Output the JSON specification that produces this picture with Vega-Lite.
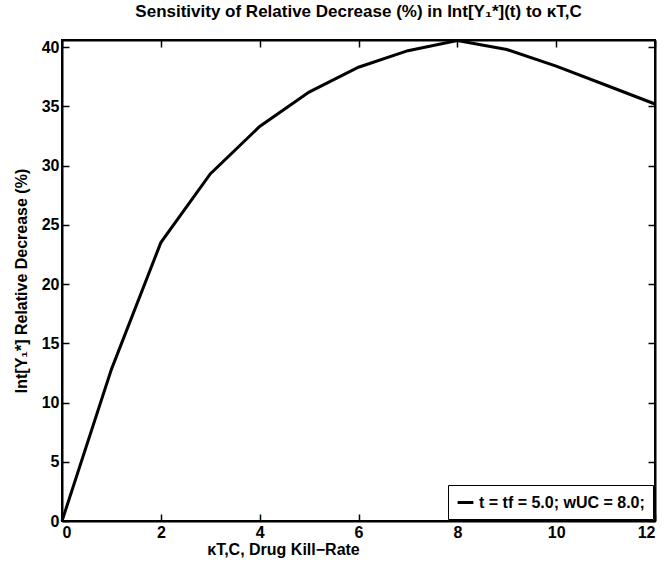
{
  "$schema": "https://vega.github.io/schema/vega-lite/v6.json",
  "width": 593,
  "height": 481,
  "autosize": {"type": "none"},
  "padding": {"left": 62, "top": 40, "right": 10, "bottom": 44},
  "background": "white",
  "config": {
    "font": "Liberation Sans",
    "view": {"stroke": "black", "strokeWidth": 2},
    "axis": {
      "domainColor": "black", "domainWidth": 2, "tickColor": "black", "tickWidth": 1.5,
      "tickSize": -7, "grid": false, "labelColor": "black", "labelFont": "Liberation Sans",
      "labelFontSize": 16, "labelFontWeight": "bold", "titleColor": "black",
      "titleFont": "Liberation Sans", "titleFontWeight": "bold", "titleFontSize": 16
    }
  },
  "title": {
    "text": "Sensitivity of Relative Decrease (%) in Int[Y₁*](t) to κT,C",
    "fontSize": 17, "fontWeight": "bold", "font": "Liberation Sans", "color": "black",
    "anchor": "middle", "offset": 14
  },
  "data": {
    "values": [
      {"k": 0, "v": 0},
      {"k": 1, "v": 12.8},
      {"k": 2, "v": 23.5},
      {"k": 3, "v": 29.3},
      {"k": 4, "v": 33.3},
      {"k": 5, "v": 36.2},
      {"k": 6, "v": 38.3},
      {"k": 7, "v": 39.7},
      {"k": 8, "v": 40.55},
      {"k": 9, "v": 39.8},
      {"k": 10, "v": 38.4},
      {"k": 11, "v": 36.8},
      {"k": 12, "v": 35.2}
    ]
  },
  "layer": [
    {
      "mark": {"type": "line", "strokeWidth": 3},
      "encoding": {
        "x": {"field": "k", "type": "quantitative", "scale": {"domain": [0, 12], "nice": false},
          "axis": {"orient": "bottom", "values": [0, 2, 4, 6, 8, 10, 12], "labelPadding": 10,
            "title": "κT,C, Drug Kill−Rate", "titleX": 221, "titlePadding": 1}},
        "y": {"field": "v", "type": "quantitative", "scale": {"domain": [0, 40.6], "nice": false},
          "axis": {"orient": "left", "values": [0, 5, 10, 15, 20, 25, 30, 35, 40], "labelPadding": 10,
            "title": "Int[Y₁*] Relative Decrease (%)", "titlePadding": 12}},
        "color": {"datum": "t = tf = 5.0; wUC = 8.0;", "type": "nominal",
          "scale": {"range": ["black"]},
          "legend": {"title": null, "orient": "bottom-right", "offset": 2, "symbolType": "stroke",
            "symbolStrokeWidth": 3, "symbolSize": 250, "labelFontSize": 16, "labelFontWeight": "bold",
            "labelFont": "Liberation Sans", "labelColor": "black", "labelLimit": 400, "strokeColor": "black",
            "fillColor": "white", "padding": 8, "cornerRadius": 0}}
      }
    },
    {
      "mark": {"type": "point", "opacity": 0},
      "encoding": {
        "x": {"field": "k", "type": "quantitative",
          "axis": {"orient": "top", "values": [0, 2, 4, 6, 8, 10, 12], "labels": false, "title": null}},
        "y": {"field": "v", "type": "quantitative",
          "axis": {"orient": "right", "values": [0, 5, 10, 15, 20, 25, 30, 35, 40], "labels": false, "title": null}}
      }
    }
  ]
}
